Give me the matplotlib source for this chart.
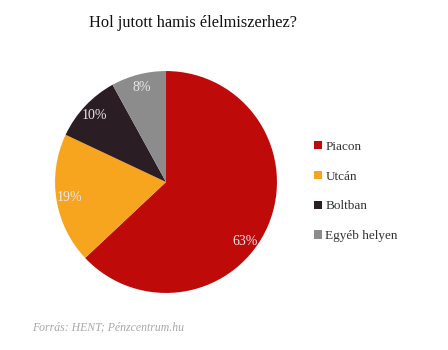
import matplotlib
matplotlib.use("Agg")
import matplotlib.pyplot as plt
import numpy as np

# Where people got counterfeit food (share of answers, %)
labels = ["Piacon", "Utcán", "Boltban", "Egyéb helyen"]
shares = [63, 19, 10, 8]
colors = ["#BF0A0A", "#F7A51E", "#2B1D24", "#8C8C8C"]

plt.rcParams["font.family"] = ["Liberation Serif", "DejaVu Serif"]

fig = plt.figure(figsize=(4.48, 3.5), dpi=100)
ax = fig.add_axes([0.1228, 0.163, 0.4955, 0.634])

wedges, texts, autotexts = ax.pie(
    shares,
    colors=colors,
    startangle=90,
    counterclock=False,
    autopct="%d%%",
    pctdistance=0.88,
    textprops={"color": "#E8E8E8", "fontsize": 10},
    wedgeprops={"linewidth": 0},
)
ax.set_xlim(-1, 1)
ax.set_ylim(-1, 1)
ax.set_aspect("equal")

# the big slice's label sits lower inside the slice
ang = np.deg2rad(-37)
autotexts[0].set_position((0.89 * np.cos(ang), 0.89 * np.sin(ang)))

fig.text(0.43, 0.935, "Hol jutott hamis élelmiszerhez?",
         ha="center", va="center", fontsize=11.8, color="#111111")

fig.legend(wedges, labels, loc="center left",
           bbox_to_anchor=(0.675, 0.453), frameon=False,
           fontsize=9.5, handlelength=0.6, handleheight=0.6,
           handletextpad=0.25, labelspacing=1.35, labelcolor="#333333")

fig.text(0.072, 0.065, "Forrás: HENT; Pénzcentrum.hu",
         ha="left", va="center", fontsize=8.5, style="italic",
         color="#A8A8A8")

fig.savefig("out.png", dpi=100)
